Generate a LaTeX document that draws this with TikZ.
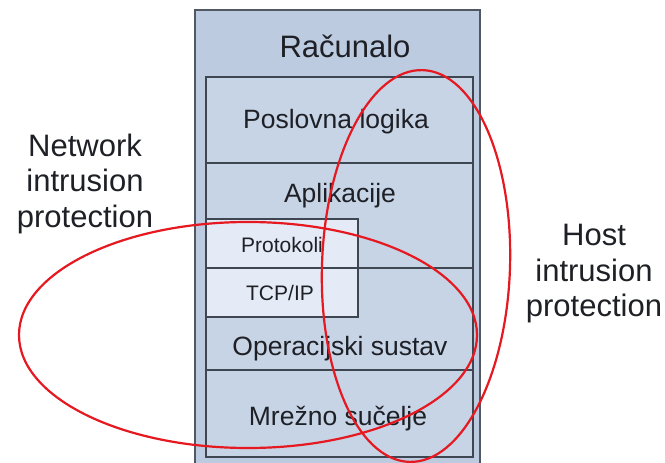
\documentclass[tikz,border=0pt]{standalone}
\usepackage{fontspec}
\setmainfont{Liberation Sans}
\definecolor{outerfill}{RGB}{188,203,224}
\definecolor{rowfill}{RGB}{198,212,230}
\definecolor{lightfill}{RGB}{228,235,246}
\definecolor{bordercol}{RGB}{62,70,82}
\definecolor{outerborder}{RGB}{80,88,100}
\definecolor{ellred}{RGB}{230,24,32}
\definecolor{txt}{RGB}{30,32,38}
\begin{document}
\begin{tikzpicture}[x=1pt,y=-1pt,
  rowbox/.style={draw=bordercol, line width=1.2pt, fill=rowfill, inner sep=0pt, outer sep=0pt, anchor=north west},
  lightbox/.style={rowbox, fill=lightfill},
  outerbox/.style={draw=outerborder, line width=1.2pt, fill=outerfill, inner sep=0pt, outer sep=0pt, anchor=north west},
  bigtxt/.style={text=txt, inner sep=0pt, anchor=base, font=\fontsize{31}{35.5}\selectfont},
  sidetxt/.style={text=txt, inner sep=0pt, align=center, font=\fontsize{31}{35.5}\selectfont},
  rowtxt/.style={text=txt, inner sep=0pt, anchor=base, font=\fontsize{26.5}{30}\selectfont},
  smalltxt/.style={text=txt, inner sep=0pt, anchor=base, font=\fontsize{21}{24}\selectfont},
  ring/.style={draw=ellred, line width=2.2pt}
]
\useasboundingbox (0,0) rectangle (665,463);
\clip (0,0) rectangle (665,463);
\fill[white] (0,0) rectangle (665,463);

% computer box and layers
\node[outerbox, minimum width=285, minimum height=470] (comp) at (195,10) {};
\node[rowbox, minimum width=267, minimum height=86] (pl) at (206,77) {};
\node[rowbox, minimum width=267, minimum height=105] (ap) at (206,163) {};
\node[rowbox, minimum width=267, minimum height=102] (os) at (206,268) {};
\node[rowbox, minimum width=267, minimum height=87] (mr) at (206,370) {};
\node[lightbox, minimum width=152, minimum height=49] (prot) at (206,219) {};
\node[lightbox, minimum width=152, minimum height=49] (tcp) at (206,268) {};

% texts
\node[bigtxt] (tcomp) at (345,57) {Računalo};
\node[rowtxt] (tpl) at (336,128) {Poslovna logika};
\node[rowtxt] (tap) at (340,202) {Aplikacije};
\node[smalltxt] (tprot) at (282,252) {Protokoli};
\node[smalltxt] (ttcp) at (280,300) {TCP/IP};
\node[rowtxt] (tos) at (340,355) {Operacijski sustav};
\node[rowtxt] (tmr) at (338,425) {Mrežno sučelje};

\node[sidetxt] (net) at (85,183.5) {Network\\intrusion\\protection};
\node[sidetxt] (host) at (594,274) {Host\\intrusion\\protection};

% protection areas
\draw[ring] (248,335) ellipse [x radius=229, y radius=113];
\draw[ring, rotate around={-2:(416,266)}] (416,266) ellipse [x radius=94, y radius=196];
\end{tikzpicture}
\end{document}
